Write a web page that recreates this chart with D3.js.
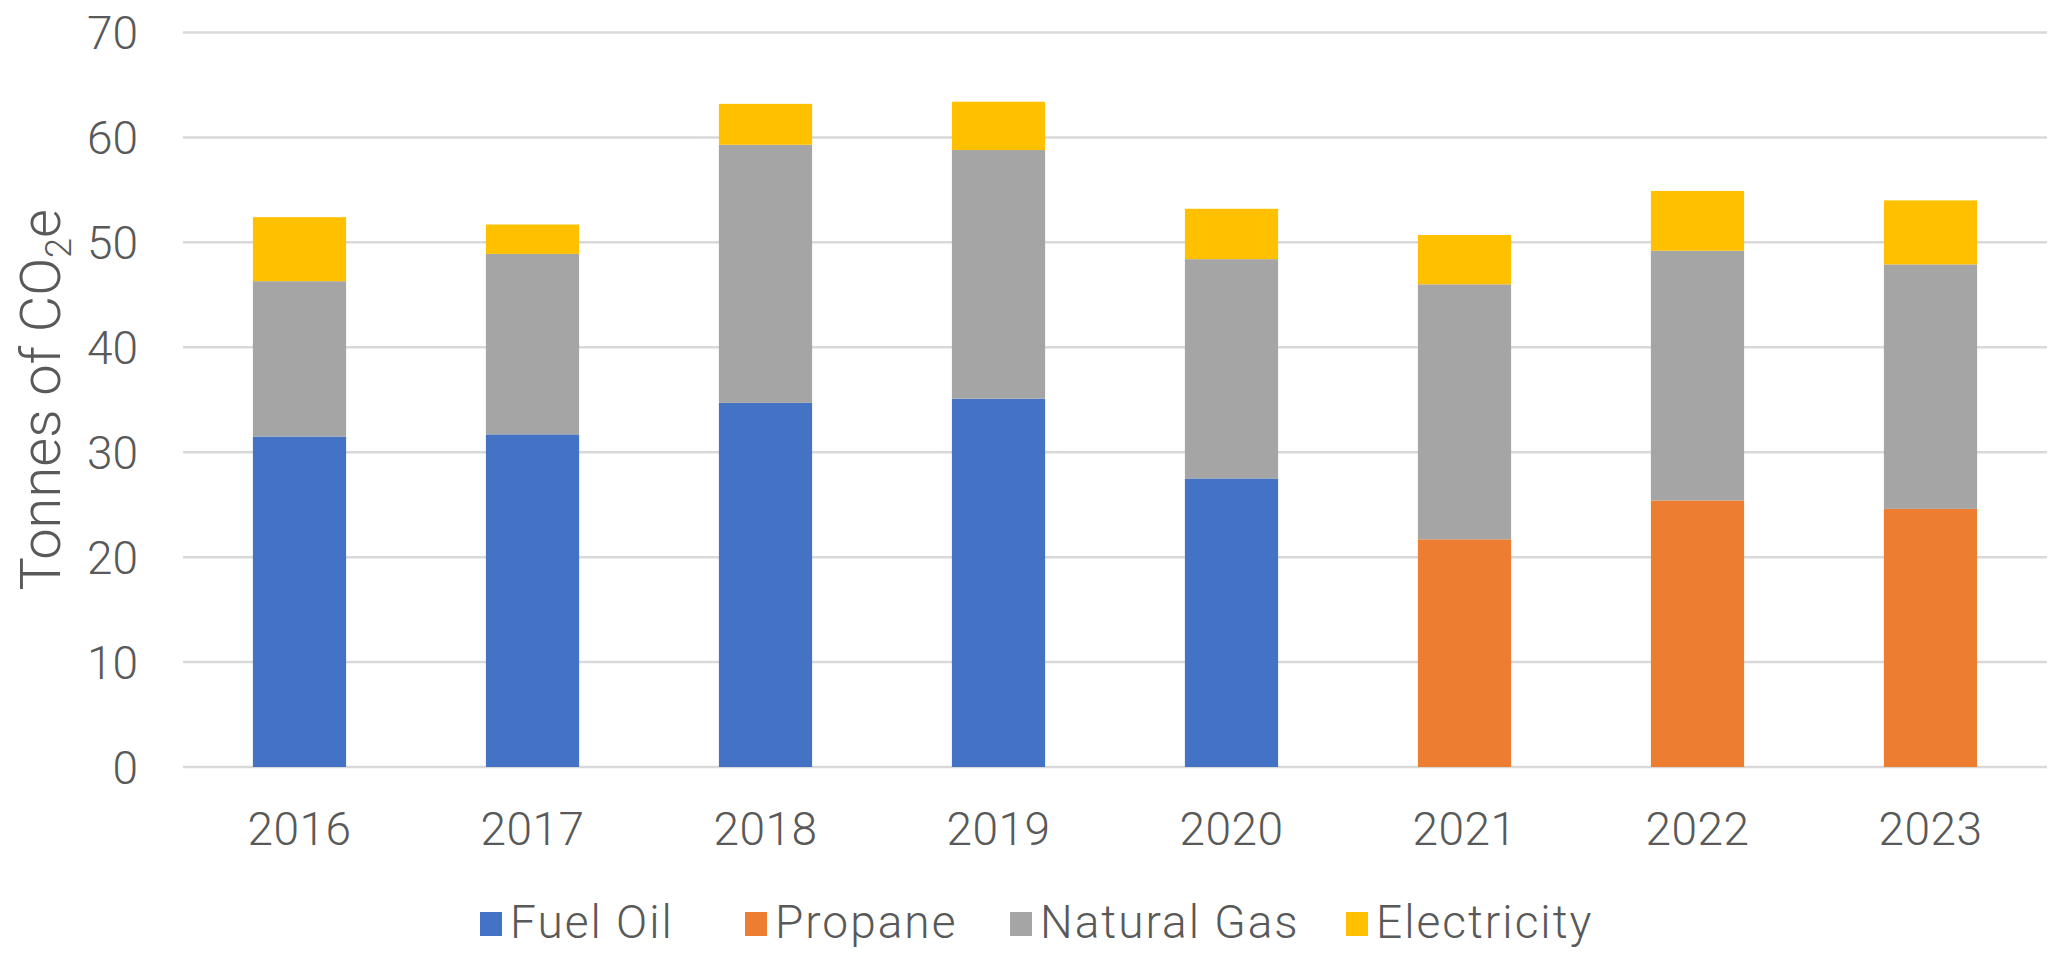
<!DOCTYPE html>
<html>
<head>
<meta charset="utf-8">
<script src="https://cdn.jsdelivr.net/npm/d3@7"></script>
<style>
  body { margin: 0; background: #fff; }
  svg text { font-family: "Helvetica Neue", Roboto, "Liberation Sans", sans-serif; font-weight: 300; fill: #595959; }
</style>
</head>
<body>
<svg id="chart"></svg>
<script>
var years = ["2016", "2017", "2018", "2019", "2020", "2021", "2022", "2023"];
var fuelOil = [31.5, 31.7, 34.7, 35.1, 27.5, 0, 0, 0];
var propane = [0, 0, 0, 0, 0, 21.7, 25.4, 24.6];
var naturalGas = [14.8, 17.2, 24.6, 23.7, 20.9, 24.3, 23.8, 23.3];
var electricity = [6.1, 2.8, 3.9, 4.6, 4.8, 4.7, 5.7, 6.1];
var seriesNames = ["Fuel Oil", "Propane", "Natural Gas", "Electricity"];
var seriesColors = ["#4472C4", "#ED7D31", "#A5A5A5", "#FFC000"];
var yTicks = [0, 10, 20, 30, 40, 50, 60, 70];

var width = 2049, height = 953;
var margin = {top: 32.5, right: 2, bottom: 186, left: 183};

var rows = years.map(function(y, i) {
  return {year: y, "Fuel Oil": fuelOil[i], "Propane": propane[i],
          "Natural Gas": naturalGas[i], "Electricity": electricity[i]};
});

var svg = d3.select("#chart")
    .attr("width", width)
    .attr("height", height);

var x = d3.scaleBand()
    .domain(years)
    .range([margin.left, width - margin.right])
    .paddingInner(0.6)
    .paddingOuter(0.3);

var y = d3.scaleLinear()
    .domain([0, 70])
    .range([height - margin.bottom, margin.top]);

var color = d3.scaleOrdinal().domain(seriesNames).range(seriesColors);

// gridlines
svg.append("g")
  .selectAll("line")
  .data(yTicks)
  .enter()
  .append("line")
    .attr("x1", margin.left)
    .attr("x2", width - margin.right)
    .attr("y1", d => y(d))
    .attr("y2", d => y(d))
    .attr("stroke", "#d9d9d9")
    .attr("stroke-width", 2.5);

// y axis labels
var yAxis = svg.append("g")
    .attr("transform", "translate(" + (margin.left - 45) + ",0)")
    .call(d3.axisLeft(y).tickValues(yTicks).tickSize(0).tickPadding(0));
yAxis.select(".domain").remove();
yAxis.selectAll("text")
    .style("font-size", "46px")
    .attr("dy", "0.35em")
    .attr("fill", "#595959");

// x axis labels
var xAxis = svg.append("g")
    .attr("transform", "translate(0," + y(0) + ")")
    .call(d3.axisBottom(x).tickSize(0).tickPadding(0));
xAxis.select(".domain").remove();
xAxis.selectAll("text")
    .style("font-size", "46px")
    .style("letter-spacing", "0.5px")
    .attr("y", 78)
    .attr("dy", 0)
    .attr("fill", "#595959");

// stacked bars
var stack = d3.stack().keys(seriesNames);
svg.append("g")
  .selectAll("g")
  .data(stack(rows))
  .enter()
  .append("g")
    .attr("fill", d => color(d.key))
  .selectAll("rect")
  .data(d => d)
  .enter()
  .append("rect")
    .attr("x", d => x(d.data.year))
    .attr("width", x.bandwidth())
    .attr("y", d => y(d[1]))
    .attr("height", d => y(d[0]) - y(d[1]));

// y axis title
var title = svg.append("text")
    .attr("transform", "translate(60," + y(35) + ") rotate(-90)")
    .style("text-anchor", "middle")
    .style("font-size", "56px");
title.append("tspan").text("Tonnes of CO");
title.append("tspan").text("2").style("font-size", "36px").attr("dy", "0.3em");
title.append("tspan").text("e").attr("dy", "-0.2em");

// legend
var legendX = [480, 745, 1010, 1346];
var legend = svg.append("g")
  .selectAll("g")
  .data(seriesNames)
  .enter()
  .append("g")
    .attr("transform", (d, i) => "translate(" + legendX[i] + ",938)");
legend.append("rect")
    .attr("x", 0)
    .attr("y", -26)
    .attr("width", 22)
    .attr("height", 24)
    .attr("fill", d => color(d));
legend.append("text")
    .attr("x", 30)
    .attr("y", 0)
    .style("font-size", "46px")
    .style("letter-spacing", "2px")
    .text(d => d);
</script>
</body>
</html>
